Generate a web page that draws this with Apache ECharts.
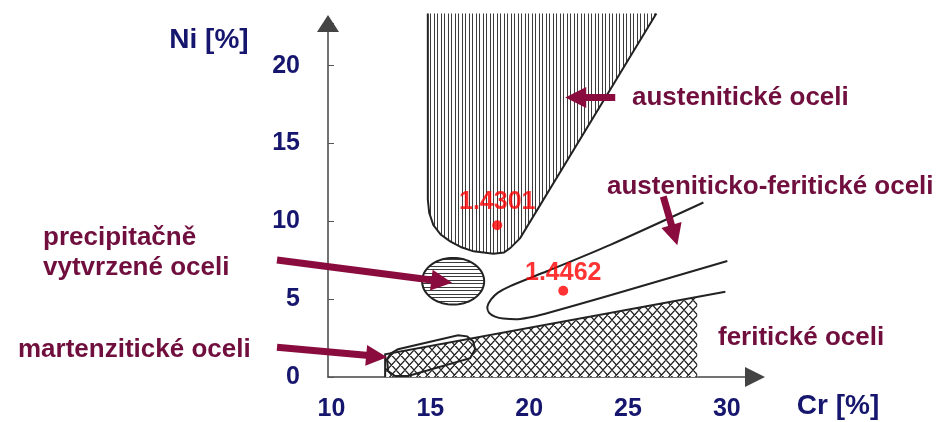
<!DOCTYPE html>
<html><head><meta charset="utf-8">
<script src="https://cdn.jsdelivr.net/npm/echarts@6/dist/echarts.min.js"></script>
<style>html,body{margin:0;padding:0;background:#fff}#c{width:942px;height:422px}</style>
</head><body><div id="c"></div>
<script>
// ---- data (Cr %, Ni %) ----
const xTickValues = [10, 15, 20, 25, 30];
const yTickValues = [0, 5, 10, 15, 20];
const austeniticBoundary = [[15.05,23.35],[15.05,11.4],[15.12,10.55],[15.33,9.76],[15.7,9.15],[16.18,8.71],[16.75,8.33],[17.36,8.07],[18.37,7.92],[18.9,8.0],[19.22,8.28],[19.72,8.92],[26.61,23.35]];
const precipitationCenter = [16.33, 6.15];
const precipitationRadii = [1.57, 1.50];
const duplexOutline = [[28.99,11.21],[24.28,8.49],[21.07,6.79],[19.22,5.84],[18.6,5.42],[18.25,4.98],[18.06,4.5],[18.15,4.12],[18.45,3.88],[18.86,3.76],[19.72,3.73],[20.73,3.98],[24.28,5.25],[30.2,7.45]];
const ferriticHatch = [[12.89,0],[12.89,1.46],[28.68,5.15],[28.68,0]];
const ferriticBoundary = [[12.89,0],[12.89,1.46],[30.10,5.48]];
const martensiticOutline = [[12.99,1.15],[13.19,1.53],[13.54,1.78],[16.58,2.68],[17.04,2.61],[17.34,2.29],[17.44,1.78],[17.19,1.21],[14.05,0.06],[13.39,0.06],[13.04,0.38]];
const steelNames = ['1.4301', '1.4462'];
const steelCr = [18.56, 21.9];
const steelNi = [9.75, 5.54];
// annotation arrows: [tailCr, tailNi, tipCr, tipNi]
const annotationArrows = [[24.53,17.96,22.0,17.96],[26.96,11.59,27.67,8.47],[7.42,7.52,16.28,6.05],[7.42,1.91,12.99,1.27]];

const FONT = '"Liberation Sans", Arial, sans-serif';
const NAVY = '#16166e';
const MAROON = '#700e3e';
const ARROW = '#8a0c3e';
const INK = '#222222';

function makePattern(kind) {
  const c = document.createElement('canvas');
  const ctx = c.getContext('2d');
  if (kind === 'v') {
    c.width = 7; c.height = 4;
    ctx.fillStyle = '#fff'; ctx.fillRect(0,0,7,4);
    ctx.fillStyle = '#3c3c3c'; ctx.fillRect(0,0,1,4); ctx.fillRect(3,0,1,4);
  } else if (kind === 'h') {
    c.width = 4; c.height = 7;
    ctx.fillStyle = '#fff'; ctx.fillRect(0,0,4,7);
    ctx.fillStyle = '#3c3c3c'; ctx.fillRect(0,0,4,1); ctx.fillRect(0,3,4,1);
  } else {
    c.width = 9; c.height = 10;
    ctx.fillStyle = '#fff'; ctx.fillRect(0,0,9,10);
    ctx.strokeStyle = '#1e1e1e'; ctx.lineWidth = 1.2;
    ctx.beginPath();
    ctx.moveTo(0,0); ctx.lineTo(9,10);
    ctx.moveTo(9,0); ctx.lineTo(0,10);
    ctx.moveTo(-1,8.9); ctx.lineTo(1,11.1);
    ctx.moveTo(8,-1.1); ctx.lineTo(10,1.1);
    ctx.moveTo(10,8.9); ctx.lineTo(8,11.1);
    ctx.moveTo(1,-1.1); ctx.lineTo(-1,1.1);
    ctx.stroke();
  }
  return { image: c, repeat: 'repeat' };
}
const vHatch = makePattern('v'), hHatch = makePattern('h'), xHatch = makePattern('x');

function areaSeries(points, fill, strokeOnly, z) {
  return {
    type: 'custom', z: z, silent: true,
    data: [points[0]],
    renderItem: function (params, api) {
      const pts = points.map(p => api.coord(p));
      const children = [];
      if (fill) children.push({ type: 'polygon', shape: { points: pts }, style: { fill: fill, stroke: null } });
      if (strokeOnly) children.push({ type: 'polyline', shape: { points: pts }, style: { fill: null, stroke: INK, lineWidth: 2 } });
      return { type: 'group', children: children };
    }
  };
}

const chart = echarts.init(document.getElementById('c'), null, { renderer: 'canvas' });
const option = {
  animation: false,
  grid: { left: 328, right: 187, top: 23.6, bottom: 42 },
  xAxis: {
    type: 'value', min: 10, max: 31.6, interval: 5,
    splitLine: { show: false },
    axisLine: { onZero: false, lineStyle: { color: '#444', width: 1.5 }, symbol: ['none', 'triangle'], symbolSize: [20, 20] },
    axisTick: { show: false },
    axisLabel: {
      margin: 20, padding: [0, 0, 0, 7],
      color: NAVY, fontWeight: 'bold', fontSize: 25, fontFamily: FONT,
      formatter: v => xTickValues.indexOf(v) >= 0 ? String(v) : ''
    }
  },
  yAxis: {
    type: 'value', min: 0, max: 22.7, interval: 5,
    splitLine: { show: false },
    axisLine: { onZero: false, lineStyle: { color: '#444', width: 1.5 }, symbol: ['none', 'triangle'], symbolSize: [22, 17] },
    axisTick: { inside: true, length: 6, lineStyle: { color: '#555' } },
    axisLabel: {
      margin: 28, padding: [15, 0, 0, 0],
      color: NAVY, fontWeight: 'bold', fontSize: 25, fontFamily: FONT,
      formatter: v => yTickValues.indexOf(v) >= 0 ? String(v) : ''
    }
  },
  series: [
    areaSeries(ferriticHatch, xHatch, false, 1),
    areaSeries(ferriticBoundary, null, true, 3),
    areaSeries(austeniticBoundary, vHatch, false, 1),
    areaSeries(austeniticBoundary, null, true, 3),
    areaSeries(martensiticOutline.concat([martensiticOutline[0]]), null, true, 3),
    {
      type: 'custom', z: 3, silent: true,
      data: [precipitationCenter],
      renderItem: function (params, api) {
        const c = api.coord(precipitationCenter);
        const rx = api.size([precipitationRadii[0], 0])[0];
        const ry = api.size([0, precipitationRadii[1]])[1];
        const pts = [];
        for (let k = 0; k < 72; k++) {
          const a = k / 72 * Math.PI * 2;
          pts.push([c[0] + rx * Math.cos(a), c[1] + ry * Math.sin(a)]);
        }
        return { type: 'polygon', shape: { points: pts }, style: { fill: hHatch, stroke: INK, lineWidth: 2 } };
      }
    },
    {
      type: 'custom', z: 3, silent: true,
      data: [duplexOutline[0]],
      renderItem: function (params, api) {
        const pts = duplexOutline.map(p => api.coord(p));
        return { type: 'polyline', shape: { points: pts, smooth: 0.25 }, style: { fill: null, stroke: INK, lineWidth: 2 } };
      }
    },
    {
      type: 'custom', z: 6, silent: true,
      data: annotationArrows,
      renderItem: function (params, api) {
        const a = annotationArrows[params.dataIndex];
        const t = api.coord([a[0], a[1]]);
        const h = api.coord([a[2], a[3]]);
        const dx = h[0] - t[0], dy = h[1] - t[1];
        const L = Math.sqrt(dx * dx + dy * dy);
        const ux = dx / L, uy = dy / L, nx = -uy, ny = ux;
        const headL = 21, headW = 10.5, shaftW = 3.5;
        const bx = h[0] - ux * headL, by = h[1] - uy * headL;
        const pts = [
          [t[0] + nx * shaftW, t[1] + ny * shaftW],
          [bx + nx * shaftW, by + ny * shaftW],
          [bx + nx * headW, by + ny * headW],
          [h[0], h[1]],
          [bx - nx * headW, by - ny * headW],
          [bx - nx * shaftW, by - ny * shaftW],
          [t[0] - nx * shaftW, t[1] - ny * shaftW]
        ];
        return { type: 'polygon', shape: { points: pts }, style: { fill: ARROW, stroke: null } };
      }
    },
    {
      type: 'scatter', z: 8, symbol: 'circle', symbolSize: 10,
      itemStyle: { color: '#ff0000' },
      data: steelNames.map((n, i) => ({
        name: n, value: [steelCr[i], steelNi[i]],
        label: { distance: i === 0 ? 6 : 0 }
      })),
      label: {
        show: true, position: 'top', formatter: p => p.name,
        color: '#ff0000', fontWeight: 'bold', fontSize: 25, fontFamily: FONT
      }
    }
  ],
  graphic: [
    { type: 'text', x: 209, y: 40, style: { text: 'Ni [%]', font: 'bold 28px ' + FONT, fill: NAVY, align: 'center', verticalAlign: 'middle', textAlign: 'center', textVerticalAlign: 'middle' } },
    { type: 'text', x: 838, y: 406, style: { text: 'Cr [%]', font: 'bold 28px ' + FONT, fill: NAVY, align: 'center', verticalAlign: 'middle', textAlign: 'center', textVerticalAlign: 'middle' } },
    { type: 'text', x: 632, y: 98, style: { text: 'austenitické oceli', font: 'bold 26px ' + FONT, fill: MAROON, align: 'left', verticalAlign: 'middle', textAlign: 'left', textVerticalAlign: 'middle' } },
    { type: 'text', x: 607, y: 187, style: { text: 'austeniticko-feritické oceli', font: 'bold 26px ' + FONT, fill: MAROON, align: 'left', verticalAlign: 'middle', textAlign: 'left', textVerticalAlign: 'middle' } },
    { type: 'text', x: 43, y: 238, style: { text: 'precipitačně', font: 'bold 26px ' + FONT, fill: MAROON, align: 'left', verticalAlign: 'middle', textAlign: 'left', textVerticalAlign: 'middle' } },
    { type: 'text', x: 43, y: 268, style: { text: 'vytvrzené oceli', font: 'bold 26px ' + FONT, fill: MAROON, align: 'left', verticalAlign: 'middle', textAlign: 'left', textVerticalAlign: 'middle' } },
    { type: 'text', x: 18, y: 350, style: { text: 'martenzitické oceli', font: 'bold 26px ' + FONT, fill: MAROON, align: 'left', verticalAlign: 'middle', textAlign: 'left', textVerticalAlign: 'middle' } },
    { type: 'text', x: 718, y: 338, style: { text: 'feritické oceli', font: 'bold 26px ' + FONT, fill: MAROON, align: 'left', verticalAlign: 'middle', textAlign: 'left', textVerticalAlign: 'middle' } }
  ]
};
chart.setOption(option);
</script>
</body></html>
